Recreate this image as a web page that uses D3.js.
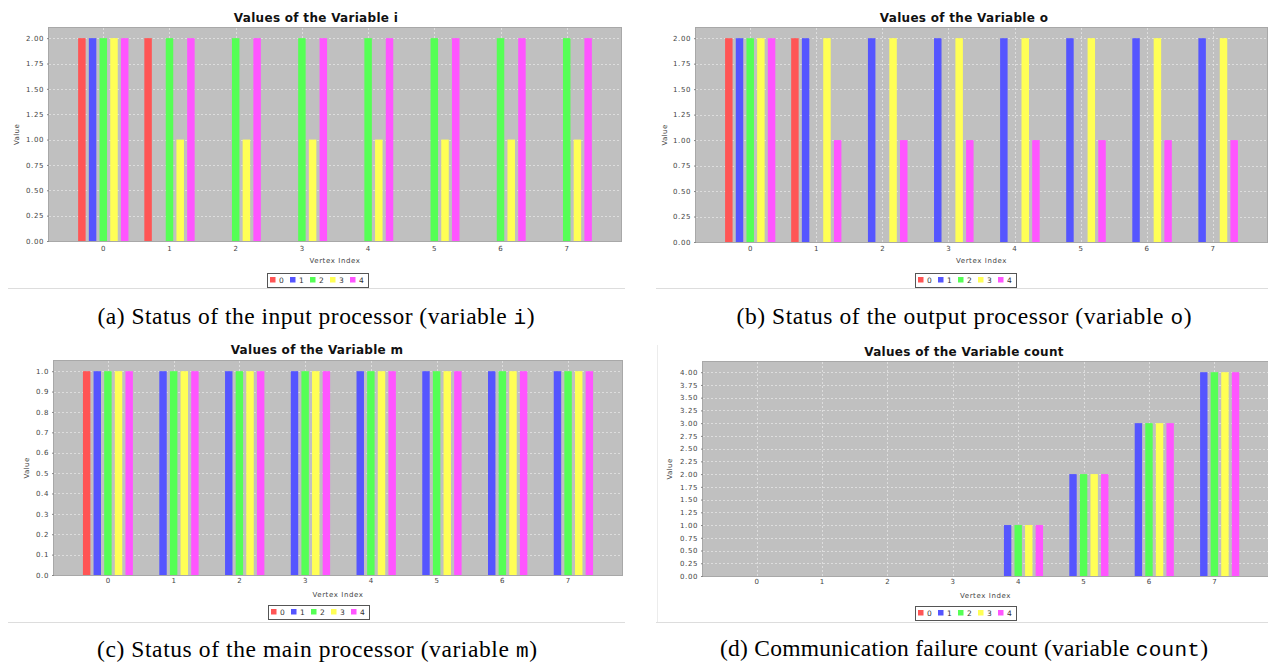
<!DOCTYPE html>
<html>
<head>
<meta charset="utf-8">
<script src="https://cdn.jsdelivr.net/npm/d3@7"></script>
<style>
	body { margin: 0; background: #ffffff; }
	svg { display: block; }
</style>
</head>
<body>
<script>

// categories and series
var vertexIndex = ["0", "1", "2", "3", "4", "5", "6", "7"];
var seriesNames = ["0", "1", "2", "3", "4"];
var seriesColors = ["#ff5555", "#5555ff", "#55ff55", "#ffff55", "#ff55ff"];

// variable i, one array per series
var varI0 = [2, 2, 0, 0, 0, 0, 0, 0];
var varI1 = [2, 0, 0, 0, 0, 0, 0, 0];
var varI2 = [2, 2, 2, 2, 2, 2, 2, 2];
var varI3 = [2, 1, 1, 1, 1, 1, 1, 1];
var varI4 = [2, 2, 2, 2, 2, 2, 2, 2];

// variable o
var varO0 = [2, 2, 0, 0, 0, 0, 0, 0];
var varO1 = [2, 2, 2, 2, 2, 2, 2, 2];
var varO2 = [2, 0, 0, 0, 0, 0, 0, 0];
var varO3 = [2, 2, 2, 2, 2, 2, 2, 2];
var varO4 = [2, 1, 1, 1, 1, 1, 1, 1];

// variable m
var varM0 = [1, 0, 0, 0, 0, 0, 0, 0];
var varM1 = [1, 1, 1, 1, 1, 1, 1, 1];
var varM2 = [1, 1, 1, 1, 1, 1, 1, 1];
var varM3 = [1, 1, 1, 1, 1, 1, 1, 1];
var varM4 = [1, 1, 1, 1, 1, 1, 1, 1];

// variable count
var varCount0 = [0, 0, 0, 0, 0, 0, 0, 0];
var varCount1 = [0, 0, 0, 0, 1, 2, 3, 4];
var varCount2 = [0, 0, 0, 0, 1, 2, 3, 4];
var varCount3 = [0, 0, 0, 0, 1, 2, 3, 4];
var varCount4 = [0, 0, 0, 0, 1, 2, 3, 4];

// value axis ticks
var ticksTwo = [0, 0.25, 0.5, 0.75, 1, 1.25, 1.5, 1.75, 2];
var ticksOne = [0, 0.1, 0.2, 0.3, 0.4, 0.5, 0.6, 0.7, 0.8, 0.9, 1];
var ticksFour = [0, 0.25, 0.5, 0.75, 1, 1.25, 1.5, 1.75, 2, 2.25, 2.5, 2.75, 3, 3.25, 3.5, 3.75, 4];

// texts
var chartTitles = ["Values of the Variable i", "Values of the Variable o", "Values of the Variable m", "Values of the Variable count"];
var captionHeads = ["(a) Status of the input processor (variable ", "(b) Status of the output processor (variable ", "(c) Status of the main processor (variable ", "(d) Communication failure count (variable "];
var captionVars = ["i", "o", "m", "count"];
var valueLabel = "Value";
var categoryLabel = "Vertex Index";


var W = 1268, H = 662;
var sansFont = "'DejaVu Sans', Verdana, sans-serif";

var svg = d3.select("body").append("svg")
	.attr("width", W)
	.attr("height", H);


// layout of each panel
var layouts = [
	{ cx: 316, l: 49,  r: 621,  t: 28,  b: 241, titleY: 22,  catY: 251, axisY: 263, legY: 273, sepY: 288, sepL: 8,   sepR: 625,  capY: 324,   capW: 437, valX: 16.5, yMax: 2.1,  fmt: ".2f" },
	{ cx: 964, l: 696, r: 1267, t: 28,  b: 242, titleY: 22,  catY: 251, axisY: 263, legY: 273, sepY: 288, sepL: 656, sepR: 1268, capY: 324,   capW: 455, valX: 665,  yMax: 2.1,  fmt: ".2f" },
	{ cx: 317, l: 54,  r: 622,  t: 361, b: 575, titleY: 354, catY: 583, axisY: 597, legY: 605, sepY: 622, sepL: 8,   sepR: 625,  capY: 656.5, capW: 440, valX: 27,   yMax: 1.05, fmt: ".1f" },
	{ cx: 964, l: 703, r: 1268, t: 362, b: 576, titleY: 356, catY: 584, axisY: 598, legY: 606, sepY: 622, sepL: 656, sepR: 1268, capY: 656,   capW: 488, valX: 670,  yMax: 4.2,  fmt: ".2f" }
];

var panelSeries = [
	[varI0, varI1, varI2, varI3, varI4],
	[varO0, varO1, varO2, varO3, varO4],
	[varM0, varM1, varM2, varM3, varM4],
	[varCount0, varCount1, varCount2, varCount3, varCount4]
];
var panelTicks = [ticksTwo, ticksTwo, ticksOne, ticksFour];


function drawPanel(i)
{
	var p = layouts[i];
	var data = panelSeries[i];
	var g = svg.append("g");

	var x = d3.scaleBand()
		.domain(vertexIndex)
		.range([p.l, p.r])
		.paddingInner(0.24)
		.paddingOuter(0.44);

	var xs = d3.scaleBand()
		.domain(seriesNames)
		.range([0, x.bandwidth()])
		.paddingInner(0.3);

	var y = d3.scaleLinear()
		.domain([0, p.yMax])
		.range([p.b, p.t]);

	// plot background
	g.append("rect")
		.attr("x", p.l)
		.attr("y", p.t)
		.attr("width", p.r - p.l)
		.attr("height", p.b - p.t)
		.attr("fill", "#c0c0c0");

	// gridlines
	g.selectAll(".hgrid")
		.data(panelTicks[i])
		.enter().append("line")
		.attr("x1", p.l)
		.attr("x2", p.r)
		.attr("y1", function(d) { return Math.round(y(d)) + 0.5; })
		.attr("y2", function(d) { return Math.round(y(d)) + 0.5; })
		.attr("stroke", "#e4e4e4")
		.attr("stroke-width", 0.8)
		.attr("stroke-dasharray", "2,2");

	g.selectAll(".vgrid")
		.data(vertexIndex)
		.enter().append("line")
		.attr("x1", function(d) { return Math.round(x(d) + x.bandwidth() / 2) + 0.5; })
		.attr("x2", function(d) { return Math.round(x(d) + x.bandwidth() / 2) + 0.5; })
		.attr("y1", p.t)
		.attr("y2", p.b)
		.attr("stroke", "#e4e4e4")
		.attr("stroke-width", 0.8)
		.attr("stroke-dasharray", "2,2");

	// bars
	for (var s = 0; s < seriesNames.length; s++)
	{
		var vals = data[s];
		var rows = [];
		for (var c = 0; c < vertexIndex.length; c++)
		{
			if (vals[c] > 0)
				rows.push({ cat: vertexIndex[c], v: vals[c] });
		}

		g.selectAll(".bar" + s)
			.data(rows)
			.enter().append("rect")
			.attr("x", function(d) { return x(d.cat) + xs(seriesNames[s]); })
			.attr("y", function(d) { return y(d.v); })
			.attr("width", xs.bandwidth())
			.attr("height", function(d) { return y(0) - y(d.v); })
			.attr("fill", seriesColors[s]);
	}

	// plot outline
	g.append("rect")
		.attr("x", p.l - 0.5)
		.attr("y", p.t - 0.5)
		.attr("width", p.r - p.l + 1)
		.attr("height", p.b - p.t + 1)
		.attr("fill", "none")
		.attr("stroke", "#a8a8a8")
		.attr("stroke-width", 1);

	// value axis
	var yAxis = g.append("g")
		.attr("transform", "translate(" + p.l + ",0)")
		.call(d3.axisLeft(y).tickValues(panelTicks[i]).tickFormat(d3.format(p.fmt)).tickSize(2).tickPadding(3));
	yAxis.select(".domain").remove();
	yAxis.selectAll("line").attr("stroke", "#888888");
	yAxis.selectAll("text")
		.attr("font-family", sansFont)
		.attr("font-size", 7)
		.attr("letter-spacing", 0.6)
		.attr("fill", "#444444");

	// category axis
	var xAxis = g.append("g")
		.attr("transform", "translate(0," + p.b + ")")
		.call(d3.axisBottom(x).tickSize(0));
	xAxis.select(".domain").remove();
	xAxis.selectAll("text")
		.attr("y", p.catY - p.b)
		.attr("dy", null)
		.attr("font-family", sansFont)
		.attr("font-size", 7)
		.attr("fill", "#444444");

	// axis labels
	g.append("text")
		.attr("transform", "translate(" + p.valX + "," + ((p.t + p.b) / 2) + ") rotate(-90)")
		.attr("text-anchor", "middle")
		.attr("dy", "0.35em")
		.attr("font-family", sansFont)
		.attr("font-size", 7)
		.attr("letter-spacing", 0.4)
		.attr("fill", "#444444")
		.text(valueLabel);

	g.append("text")
		.attr("x", (p.l + p.r) / 2)
		.attr("y", p.axisY)
		.attr("text-anchor", "middle")
		.attr("font-family", sansFont)
		.attr("font-size", 7)
		.attr("letter-spacing", 0.6)
		.attr("fill", "#444444")
		.text(categoryLabel);

	// chart title
	g.append("text")
		.attr("x", p.cx)
		.attr("y", p.titleY)
		.attr("text-anchor", "middle")
		.attr("font-family", sansFont)
		.attr("font-weight", "bold")
		.attr("font-size", 12)
		.attr("letter-spacing", 0.3)
		.attr("fill", "#111111")
		.text(chartTitles[i]);

	// legend
	var legW = 101, legH = 14, legStep = 20;
	var legX = Math.round(p.cx + 1.5 - legW / 2);
	g.append("rect")
		.attr("x", legX + 0.5)
		.attr("y", p.legY + 0.5)
		.attr("width", legW)
		.attr("height", legH)
		.attr("fill", "#ffffff")
		.attr("stroke", "#555555")
		.attr("stroke-width", 1);

	var items = g.selectAll(".leg")
		.data(seriesNames)
		.enter().append("g")
		.attr("transform", function(d, k) { return "translate(" + (legX + 3 + k * legStep) + "," + p.legY + ")"; });

	items.append("rect")
		.attr("x", 0)
		.attr("y", 4)
		.attr("width", 5.5)
		.attr("height", 5.5)
		.attr("fill", function(d, k) { return seriesColors[k]; });

	items.append("text")
		.attr("x", 9)
		.attr("y", 10)
		.attr("font-family", sansFont)
		.attr("font-size", 7.5)
		.attr("fill", "#333333")
		.text(function(d) { return d; });

	// separator under the chart
	g.append("line")
		.attr("x1", p.sepL)
		.attr("x2", p.sepR)
		.attr("y1", p.sepY + 0.5)
		.attr("y2", p.sepY + 0.5)
		.attr("stroke", "#dddddd")
		.attr("stroke-width", 1);

	// caption, stretched to the width of the original line
	var cap = g.append("text")
		.attr("x", p.cx - p.capW / 2)
		.attr("y", p.capY)
		.attr("textLength", p.capW)
		.attr("lengthAdjust", "spacing")
		.attr("font-family", "'Liberation Serif', 'Times New Roman', serif")
		.attr("font-size", 23.5)
		.attr("fill", "#000000");
	cap.append("tspan").text(captionHeads[i]);
	cap.append("tspan")
		.attr("font-family", "'Liberation Mono', 'Courier New', monospace")
		.attr("font-size", 21)
		.text(captionVars[i]);
	cap.append("tspan").text(")");
}


for (var i = 0; i < layouts.length; i++)
	drawPanel(i);

// faint border at the left of the last chart
svg.append("line")
	.attr("x1", 657.5)
	.attr("x2", 657.5)
	.attr("y1", 345)
	.attr("y2", 622)
	.attr("stroke", "#ececec")
	.attr("stroke-width", 1);

</script>
</body>
</html>
